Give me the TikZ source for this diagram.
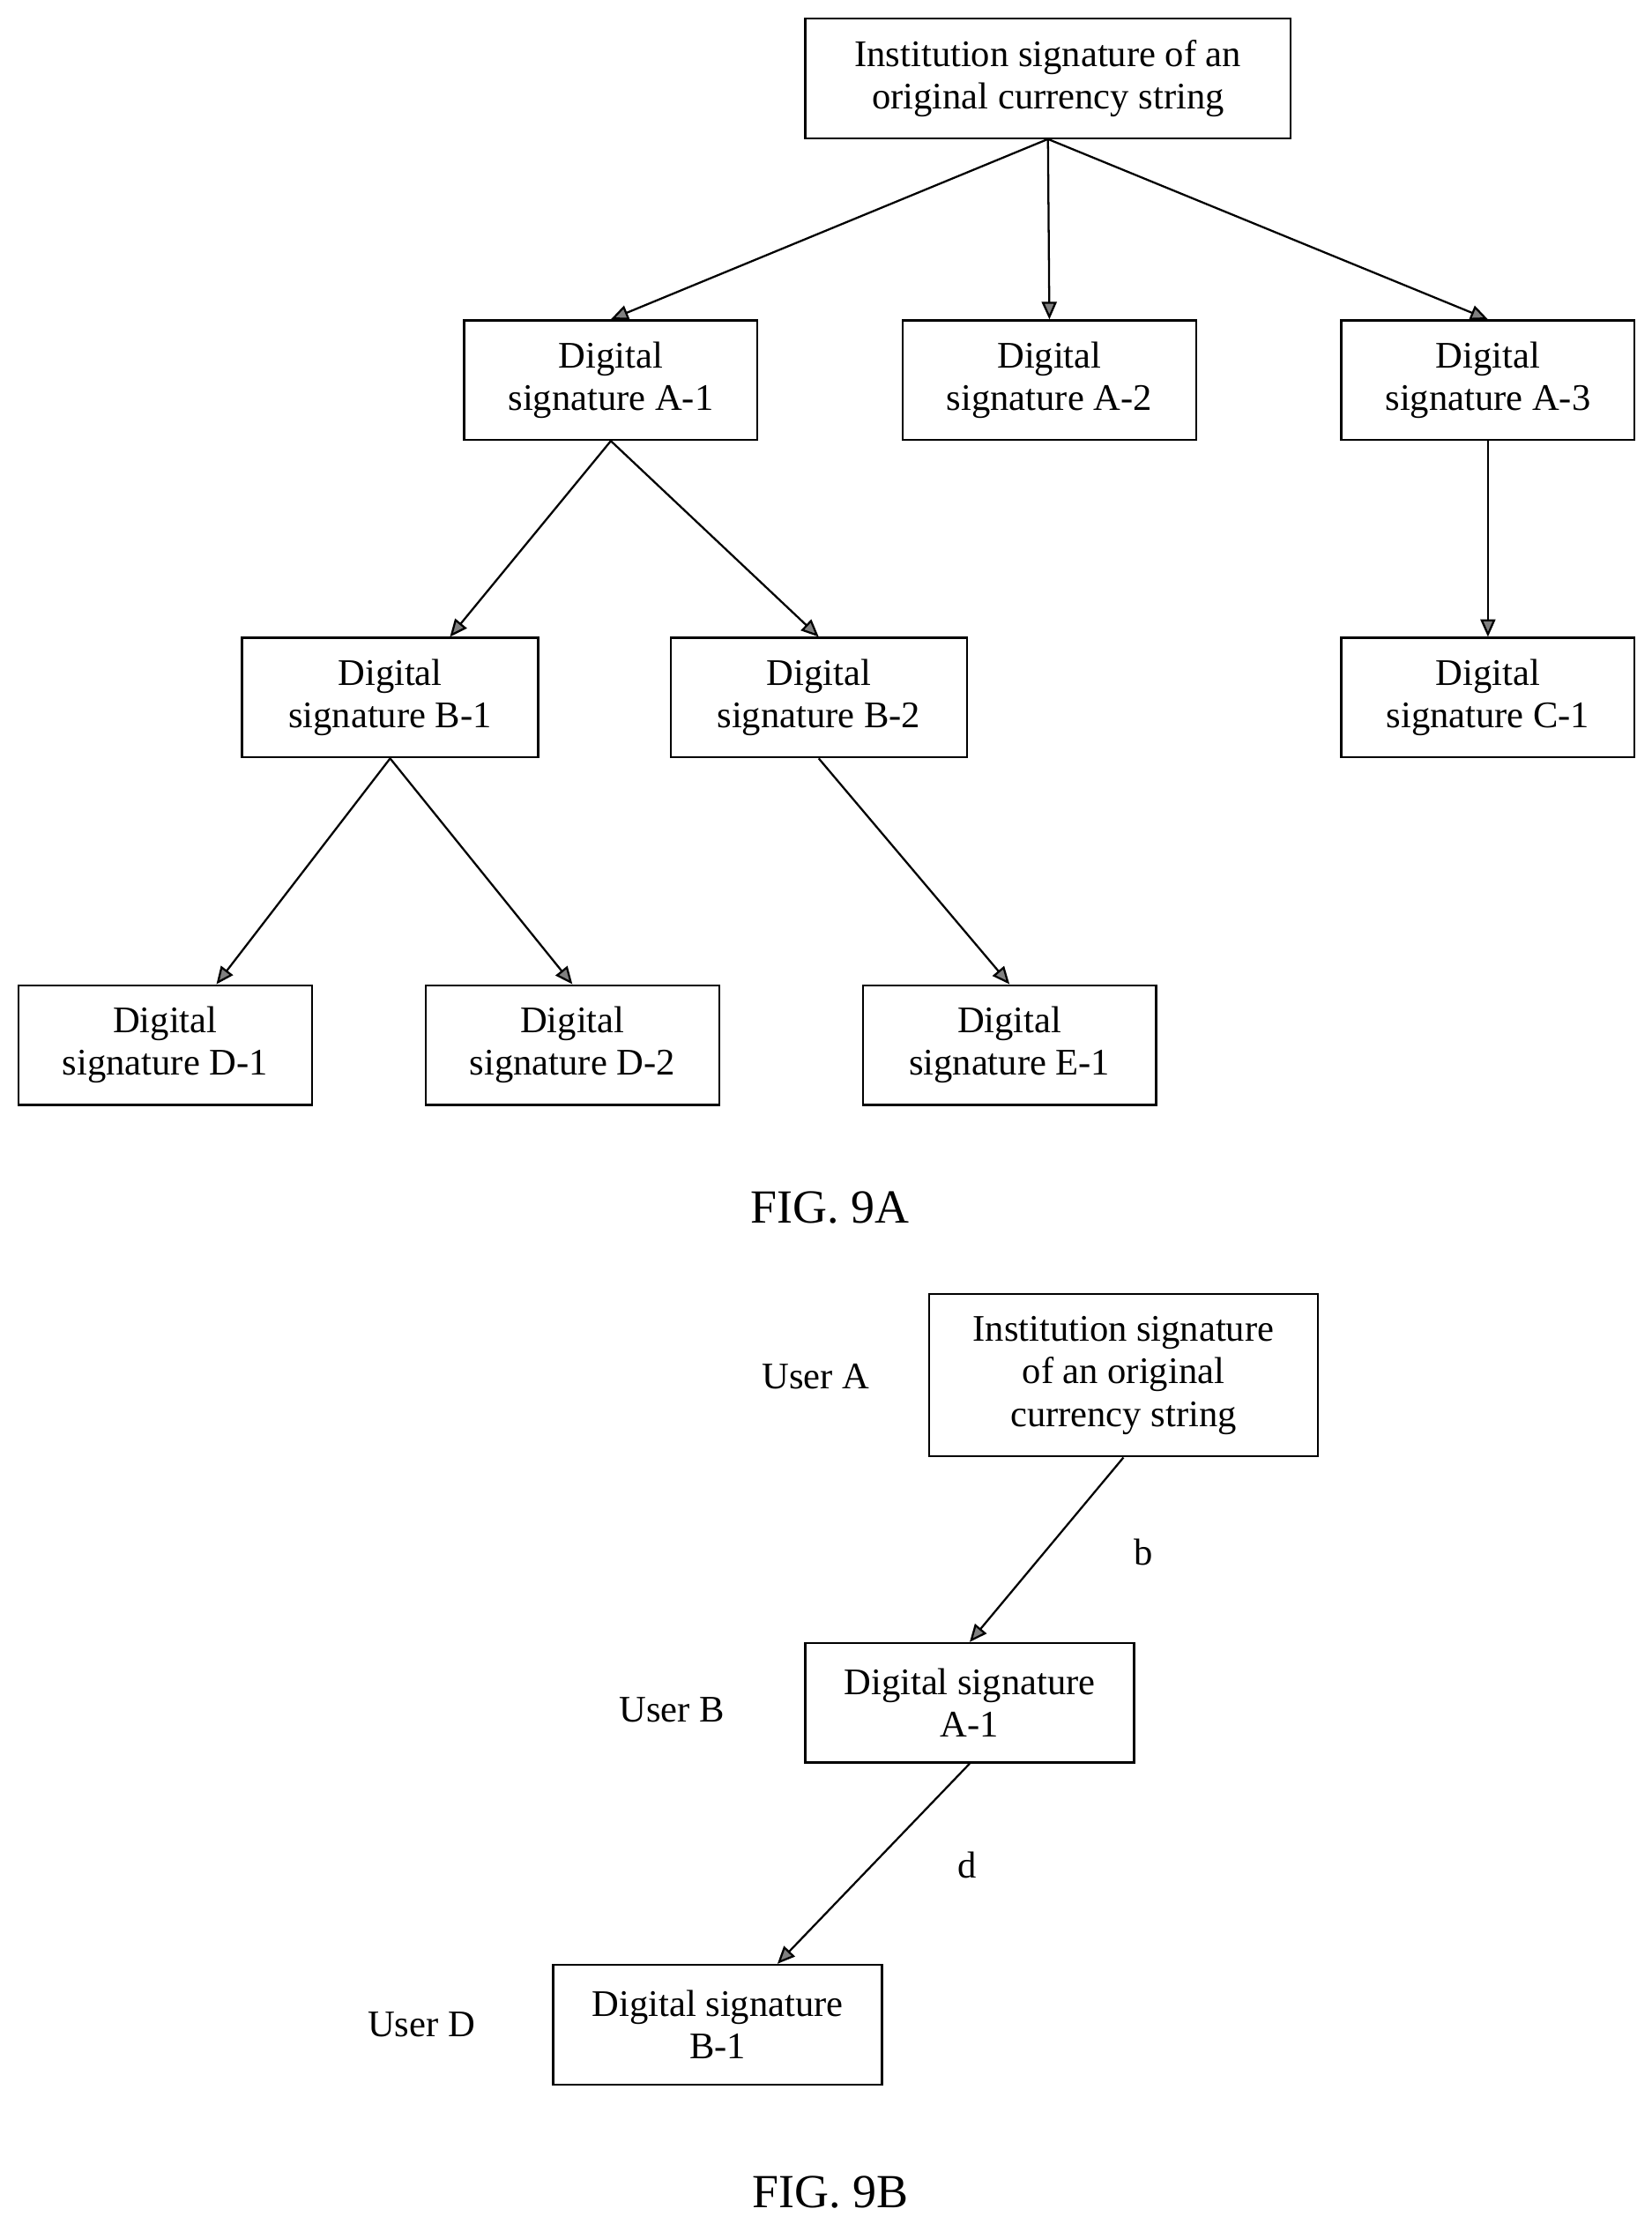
\documentclass[tikz,border=0pt]{standalone}
\usepackage{fontspec}
\setmainfont{Liberation Serif}
\usetikzlibrary{arrows.meta}

\begin{document}
\begin{tikzpicture}[x=0.02cm, y=-0.02cm, font=\fontsize{15}{17}\selectfont]
    % Define the style for the nodes
    \tikzstyle{box} = [rectangle, draw, thick, align=center, inner sep=2pt, minimum height=84*0.02cm]
    \tikzstyle{line} = [draw, thick, -{Triangle[length=7pt, width=6pt, fill=gray]}]
    \tikzstyle{fig} = [font=\fontsize{19}{22}\selectfont]

    \useasboundingbox (0,0) rectangle (1160,1567);

    % FIG. 9A
    \node [box, minimum width=341*0.02cm] (root) at (736,55) {Institution signature of an\\original currency string};
    \node [box, minimum width=206*0.02cm] (a1) at (429,267) {Digital\\signature A-1};
    \node [box, minimum width=206*0.02cm] (a2) at (737,267) {Digital\\signature A-2};
    \node [box, minimum width=206*0.02cm] (a3) at (1045,267) {Digital\\signature A-3};
    \node [box, minimum width=208*0.02cm] (b1) at (274,490) {Digital\\signature B-1};
    \node [box, minimum width=208*0.02cm] (b2) at (575,490) {Digital\\signature B-2};
    \node [box, minimum width=206*0.02cm] (c1) at (1045,490) {Digital\\signature C-1};
    \node [box, minimum width=206*0.02cm] (d1) at (116,734) {Digital\\signature D-1};
    \node [box, minimum width=206*0.02cm] (d2) at (402,734) {Digital\\signature D-2};
    \node [box, minimum width=206*0.02cm] (e1) at (709,734) {Digital\\signature E-1};
    \node [fig] (fig9a) at (583,848) {FIG. 9A};

    \path [line] (root.south) -- (a1.north);
    \path [line] (root.south) -- (a2.north);
    \path [line] (root.south) -- (a3.north);
    \path [line] (a1.south) -- ([xshift=0.84cm]b1.north);
    \path [line] (a1.south) -- (b2.north);
    \path [line] (a3.south) -- (c1.north);
    \path [line] (b1.south) -- ([xshift=0.72cm]d1.north);
    \path [line] (b1.south) -- (d2.north);
    \path [line] (b2.south) -- (e1.north);

    % FIG. 9B
    \node [box, minimum width=273*0.02cm, minimum height=114*0.02cm] (rootb) at (789,966) {Institution signature\\of an original\\currency string};
    \node [box, minimum width=231*0.02cm] (a1b) at (681,1196) {Digital signature\\A-1};
    \node [box, minimum width=231*0.02cm] (b1b) at (504,1422) {Digital signature\\B-1};
    \node (usera) at (573,967) {User A};
    \node (userb) at (472,1201) {User B};
    \node (userd) at (296,1422) {User D};
    \node [fig] (fig9b) at (583,1540) {FIG. 9B};

    \path [line] (rootb.south) -- (a1b.north);
    \path [line] (a1b.south) -- ([xshift=0.84cm]b1b.north);
    \node (lb) at (803,1090) {b};
    \node (ld) at (679,1310) {d};

\end{tikzpicture}
\end{document}
